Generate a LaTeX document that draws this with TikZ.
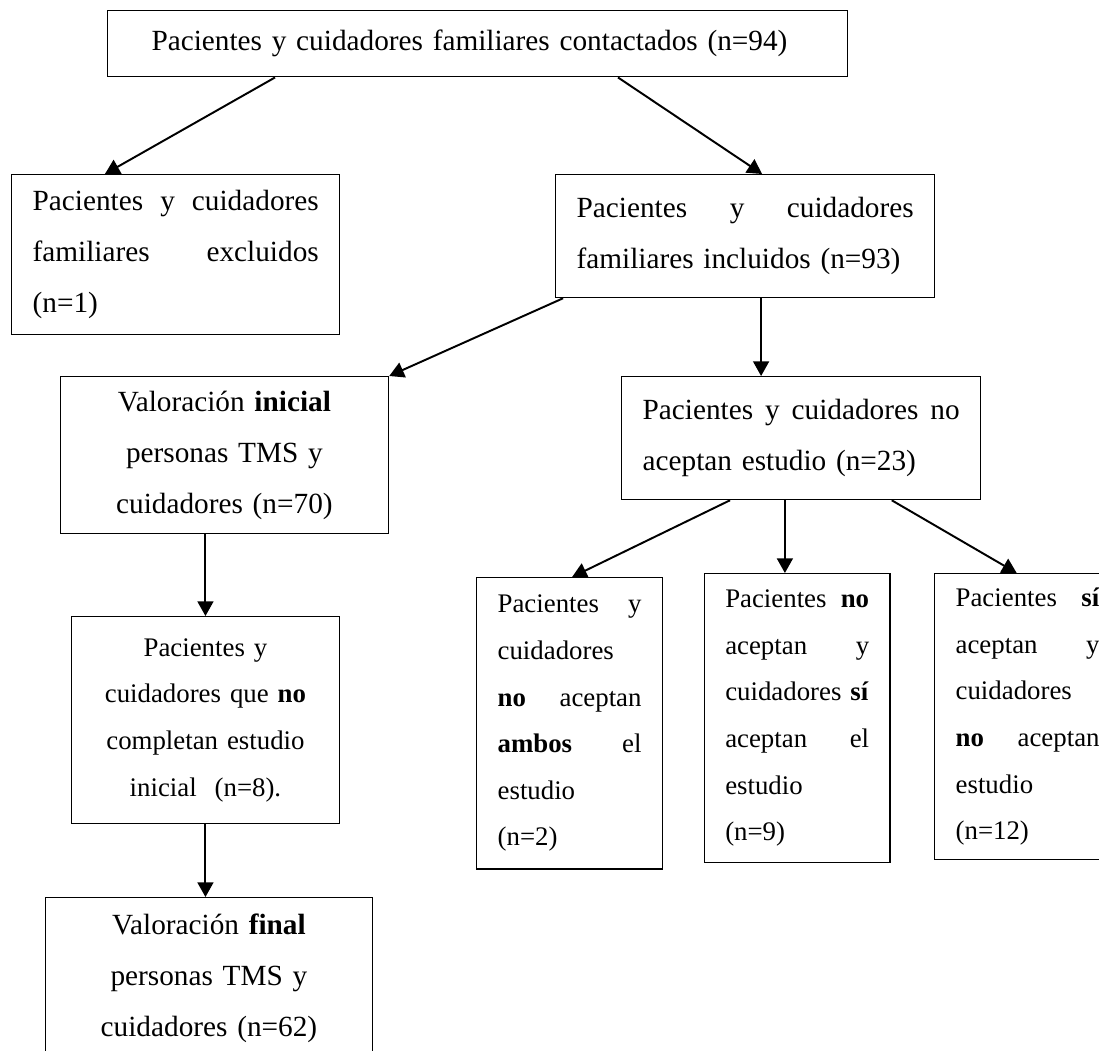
\documentclass[tikz,border=0pt]{standalone}
\usepackage{fontspec}
\setmainfont{Liberation Serif}
\usetikzlibrary{arrows.meta,positioning,calc}

\tikzset{
  box/.style={draw, line width=0.55pt, anchor=north west, inner xsep=8.6pt, inner ysep=0pt,
    font=\fontsize{12}{20.9}\selectfont},
  small/.style={font=\fontsize{11}{19.1}\selectfont},
  arr/.style={-{Triangle[length=6pt,width=6.5pt]}, line width=0.8pt},
}

\begin{document}
\begin{tikzpicture}[x=0.41pt,y=-0.41pt]
  \useasboundingbox (0,0) rectangle (1099,1050);
  % cajas
  \node[box, align=left, inner xsep=18pt, text width=267.3pt, minimum height=27.1pt] (contact) at (107,10)
    {Pacientes y cuidadores familiares contactados (n=94)};
  \node[box, align=left, text width=117.3pt, minimum height=65.6pt] (excl) at (11,174)
    {Pacientes \hfill y \hfill cuidadores\\ familiares \hfill excluidos\\ (n=1)};
  \node[box, align=left, text width=138.2pt, minimum height=50.4pt] (incl) at (555,174)
    {Pacientes \hfill y \hfill cuidadores\\ familiares incluidos (n=93)};
  \node[box, align=center, text width=117.4pt, minimum height=64.4pt] (inicial) at (59.6,376)
    {Valoración \textbf{inicial}\\ personas TMS y\\ cuidadores (n=70)};
  \node[box, align=left, text width=130pt, minimum height=50.4pt] (noac) at (621,376)
    {Pacientes \hfill y \hfill cuidadores \hfill no\\ aceptan estudio (n=23)};
  \node[box, small, align=center, text width=92.5pt, minimum height=84.9pt] (complet) at (71,616)
    {Pacientes y\\ cuidadores que \textbf{no}\\ completan estudio\\ inicial~~(n=8).};
  \node[box, align=center, text width=117.1pt, minimum height=66pt] (final) at (44.5,897)
    {Valoración \textbf{final}\\ personas TMS y\\ cuidadores (n=62)};
  \node[box, small, align=left, text width=59pt, minimum height=119.4pt] (ambos) at (476,577)
    {Pacientes \hfill y\\ cuidadores\\ \textbf{no} \hfill aceptan\\ \textbf{ambos} \hfill el\\ estudio\\ (n=2)};
  \node[box, small, align=left, text width=59pt, minimum height=118.5pt] (pacno) at (703.6,573)
    {Pacientes \hfill \textbf{no}\\ aceptan \hfill y\\ \mbox{cuidadores\hfill\ \textbf{sí}}\\ aceptan \hfill el\\ estudio\\ (n=9)};
  \node[box, small, align=left, text width=59pt, minimum height=117.3pt] (pacsi) at (934,573)
    {Pacientes \hfill \textbf{sí}\\ aceptan \hfill y\\ cuidadores\\ \textbf{no} \hfill aceptan\\ estudio\\ (n=12)};
  % flechas
  \coordinate (incl-out) at ([xshift=84.5pt]incl.south west);
  \coordinate (noac-mid) at ([xshift=67.2pt]noac.south west);
  \draw[arr] ([xshift=68.9pt]contact.south west) -- ([xshift=38.5pt]excl.north west);
  \draw[arr] ([xshift=209.5pt]contact.south west) -- ([xshift=84.9pt]incl.north west);
  \draw[arr] ([xshift=3.3pt]incl.south west) -- (inicial.north east);
  \draw[arr] (incl-out) -- (incl-out |- noac.north);
  \draw[arr] (complet.north |- inicial.south) -- (complet.north);
  \draw[arr] (complet.south) -- (complet.south |- final.north);
  \draw[arr] ([xshift=44.7pt]noac.south west) -- ([xshift=39.4pt]ambos.north west);
  \draw[arr] (noac-mid) -- (noac-mid |- pacno.north);
  \draw[arr] ([xshift=111pt]noac.south west) -- ([xshift=33.9pt]pacsi.north west);
\end{tikzpicture}
\end{document}
